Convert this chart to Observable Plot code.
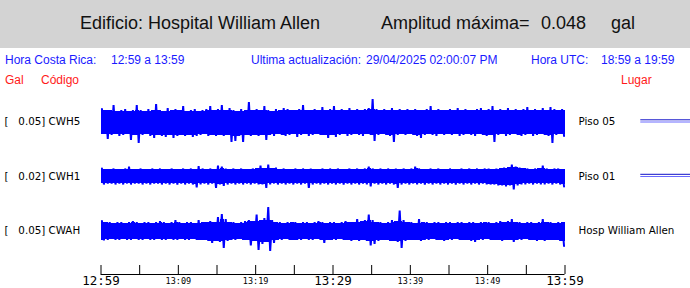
<!DOCTYPE html>
<html><head><meta charset="utf-8">
<script src="https://cdn.jsdelivr.net/npm/d3@7"></script>
<script src="https://cdn.jsdelivr.net/npm/@observablehq/plot@0.6"></script>
<style>
html,body{margin:0;padding:0;background:#fff;}
body{width:690px;height:288px;overflow:hidden;}
#hdr{position:relative;width:690px;height:90px;font-family:"Liberation Sans",Arial,sans-serif;}
#band{position:absolute;left:0;top:0;width:690px;height:48px;background:#d3d3d3;}
.t{position:absolute;white-space:pre;}
.big{font-size:18px;line-height:18px;top:13.8px;color:#111;}
.blue{font-size:12px;line-height:12px;top:54.3px;color:#1a1aff;}
.red{font-size:12px;line-height:12px;top:73.8px;color:#ff1a1a;}
#chart svg{display:block;}
</style>
</head><body>
<div id="hdr">
  <div id="band"></div>
  <span class="t big" style="left:80px">Edificio: Hospital William Allen</span>
  <span class="t big" style="left:381px">Amplitud máxima=</span>
  <span class="t big" style="left:541px">0.048</span>
  <span class="t big" style="left:611px">gal</span>
  <span class="t blue" style="left:5px">Hora Costa Rica:</span>
  <span class="t blue" style="left:111px">12:59 a 13:59</span>
  <span class="t blue" style="left:251px">Ultima actualización:</span>
  <span class="t blue" style="left:366px">29/04/2025 02:00:07 PM</span>
  <span class="t blue" style="left:531px">Hora UTC:</span>
  <span class="t blue" style="left:601px">18:59 a 19:59</span>
  <span class="t red" style="left:5px">Gal</span>
  <span class="t red" style="left:41px">Código</span>
  <span class="t red" style="left:621px">Lugar</span>
</div>
<div id="chart"></div>
<script>
// ---- data (trace envelopes; one value per 0.5 min) ----
const channels = ["CWH5", "CWH1", "CWAH"];
const fullScales = ["0.05", "0.02", "0.05"];
const places = ["Piso 05", "Piso 01", "Hosp William Allen"];
const sampleMinutes = 0.5;

const cwh5Top = [13,12,12,17,11,12,13,11,12,17, 12,11,13,12,18,12,11,14,12,13, 12,16,11,12,13,11,12,13,16,12,
  13,17,12,14,12,11,13,12,20,12, 13,12,16,12,11,13,12,14,13,12, 12,13,17,12,12,13,12,15,12,13,
  16,12,13,12,14,12,13,12,13,14, 23,13,12,13,12,14,12,13,12,13, 12,13,12,12,13,16,12,13,12,12,
  13,12,14,12,13,12,12,13,14,12, 13,16,12,13,12,14,12,13,12,13, 15,12,13,12,14,12,15,13,12,13];
const cwh5Bot = [12,17,13,12,14,13,12,18,13,21, 13,12,14,16,13,14,15,13,16,14, 13,14,13,15,14,13,12,14,13,14,
  13,14,13,20,19,14,20,13,14,13, 14,13,18,13,14,12,13,14,13,12, 15,13,12,14,13,12,13,13,16,13,
  15,13,12,14,13,12,13,14,12,13, 19,13,12,13,14,20,13,12,13,12, 13,14,16,13,12,13,14,12,13,12,
  13,12,14,13,12,13,14,12,13,14, 13,20,13,12,14,13,12,13,14,13, 12,14,13,12,13,14,21,13,12,14];
const cwh1Top = [8,7,7,8,7,7,8,10,7,7, 8,7,7,8,7,8,7,7,8,7, 7,8,7,8,7,10.5,8,7,8,7,
  11,10,8,7,8,7,8,7,7,8, 8,11,8,12,8,9,7,8,7,7, 8,7,8,7,8,7,7,8,7,8,
  7,8,7,7,8,7,8,7,8,10, 8,7,8,7,8,7,8,7,8,7, 8,10,8,7,7,8,7,8,7,7,
  8,7,7,8,7,8,7,8,7,8, 8,7,8,8,9,9,12,10,9,8, 8,7,8,8,11,8,7,8,8,7];
const cwh1Bot = [8,7,7,8,7,8,7,8,7,7, 8,7,8,7,7,8,7,8,7,8, 7,8,7,8,11,8,7,8,7,11.5,
  8,9.5,8,7,8,7,8,7,8,7, 8,8,11.5,8,7,8,7,8,7,8, 7,8,7,11.5,8,7,8,7,8,7,
  8,7,8,7,8,7,8,7,8,10, 7,8,7,8,7,8,11.5,8,7,8, 7,8,7,8,7,8,7,8,7,8,
  7,8,7,8,7,8,7,8,7,8, 8,8,9,9,10,9,13,9,8,8, 7,8,7,8,8,7,8,7,8,10];
const cwahTop = [10,9,9,8,9,9,8,9,10,9, 8,9,9,8,9,10,9,8,9,11, 9,8,9,9,8,11,9,9,10,9,
  14,17,12,9,9,8,9,10,11,10, 16.5,11,13,24,11,9,9,8,9,9, 9,8,9,9,8,9,10,9,8,9,
  9,8,9,10,9,9,12,10,11,16.5, 11,9,9,8,9,11,10,20.5,11,9, 9,8,12,9,9,8,9,9,8,9,
  9,8,9,9,8,9,9,8,9,9, 9,8,9,10,9,10,12,9,9,8, 9,9,8,9,12,9,9,8,9,9];
const cwahBot = [9.5,9,8,9,9,8,9,9,8,9, 9,8,9,9,8,9,9,8,9,9, 8,9,9,8,9,9,9,10,12,10,
  11,17,10,9,9,8,9,9,14.5,10, 19,13,11,20,12,9,9,8,9,9, 9,9,8,9,9,8,9,12,9,9,
  9,8,9,9,10,9,10,9,10,14.5, 13,10,9,9,10,10,11,17,10,9, 9,9,10,9,9,8,9,9,10,9,
  9,8,9,9,9,10,11,9,9,8, 9,9,9,10,9,9,11,9,9,8, 9,9,10,9,10,9,9,9,10,15];

const tickMinutes = [0,5,10,15,20,25,30,35,40,45,50,55,60];
const labelMinutes = [0,10,20,30,40,50,60];
const tickLabels = ["12:59","13:09","13:19","13:29","13:39","13:49","13:59"];

// ---- layout ----
const traceTop = 152.5, traceGap = 54.5;
const center = k => traceTop - k * traceGap;
const tops = [cwh5Top, cwh1Top, cwahTop];
const bots = [cwh5Bot, cwh1Bot, cwahBot];
const localMin = (arr, i) => Math.min(arr[i], arr[Math.max(0, i - 1)], arr[Math.min(arr.length - 1, i + 1)]);

// each sample: a swing up to its top value, then down to its bottom value
const pts = channels.flatMap((ch, k) => tops[k].flatMap((v, i) => [
  {ch, t: (i + 0.25) * sampleMinutes, y: center(k) + v},
  {ch, t: (i + 0.75) * sampleMinutes, y: center(k) - bots[k][i]}
]));
// solid body of the trace under the swings
const rows = channels.flatMap((ch, k) => tops[k].map((v, i) => ({
  ch, t0: i * sampleMinutes, t1: (i + 1) * sampleMinutes,
  lo: center(k) - localMin(bots[k], i),
  hi: center(k) + localMin(tops[k], i)
})));
const chanRows = channels.map((ch, k) => ({ch, k, c: center(k),
  left: `[\u00A0\u00A0\u00A0${fullScales[k]}] ${ch}`, right: places[k]}));
const labelRows = labelMinutes.map((m, i) => ({m, label: tickLabels[i], big: m % 30 === 0}));

const plot = Plot.plot({
  width: 690, height: 198,
  marginLeft: 100.5, marginRight: 125.5, marginTop: 0, marginBottom: 14,
  x: {domain: [0, 60], axis: null},
  y: {domain: [0, 184], axis: null},
  style: {background: "white", overflow: "visible"},
  marks: [
    Plot.rect(rows, {x1: "t0", x2: "t1", y1: "lo", y2: "hi", fill: "#0000ff", shapeRendering: "crispEdges"}),
    Plot.line(pts, {x: "t", y: "y", z: "ch", stroke: "#0000ff", strokeWidth: 2, strokeLinejoin: "bevel"}),
    // small right-hand markers
    Plot.ruleY(chanRows.slice(0, 2), {y: d => d.c + 2.2, x1: 69.8, x2: 77, stroke: "#1010c8", strokeWidth: 1}),
    Plot.ruleY(chanRows.slice(0, 2), {y: d => d.c, x1: 69.8, x2: 77, stroke: "#6a6aff", strokeWidth: 1}),
    Plot.text(chanRows, {y: "c", text: "left", frameAnchor: "left", dx: -96.5, textAnchor: "start",
      fontFamily: "DejaVu Sans", fontSize: 10.3, fill: "#000"}),
    Plot.text(chanRows, {y: "c", text: "right", frameAnchor: "right", dx: 13.5, textAnchor: "start",
      fontFamily: "DejaVu Sans", fontSize: 10.3, fill: "#000"}),
    // time axis
    Plot.ruleY([0], {x1: 0, x2: 60, stroke: "#000", strokeWidth: 1}),
    Plot.ruleX(tickMinutes, {x: d => d, y1: 0, y2: 9, stroke: "#000", strokeWidth: 1}),
    Plot.text(labelRows.filter(d => !d.big), {x: "m", y: 0, dy: 6.5, text: "label", lineAnchor: "middle",
      fontFamily: "DejaVu Sans Mono", fontSize: 8.5, fill: "#000"}),
    Plot.text(labelRows.filter(d => d.big), {x: "m", y: 0, dy: 6.5, text: "label", lineAnchor: "middle",
      fontFamily: "DejaVu Sans Mono", fontSize: 12.5, fontWeight: 300, fill: "#000"})
  ]
});
document.getElementById("chart").appendChild(plot);
</script>
</body></html>
